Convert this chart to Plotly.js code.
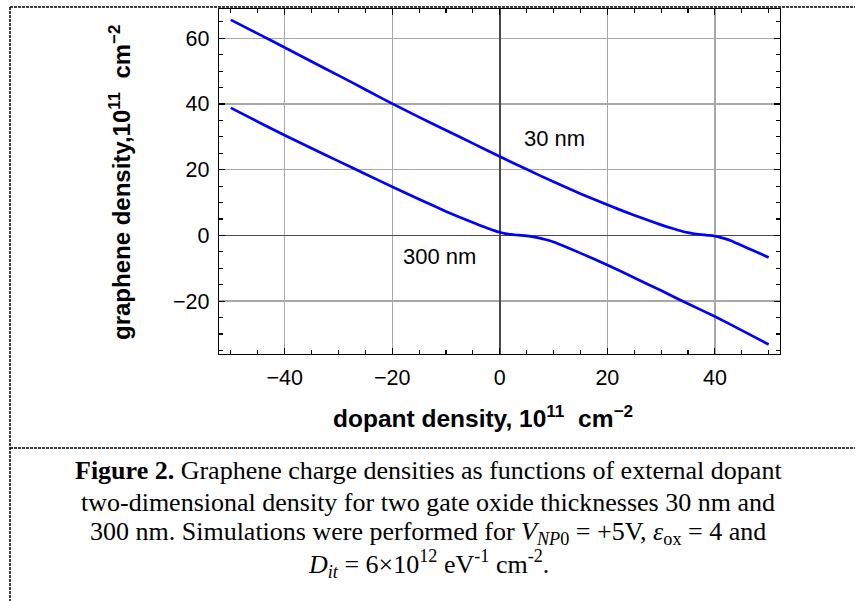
<!DOCTYPE html>
<html>
<head>
<meta charset="utf-8">
<script src="https://cdn.plot.ly/plotly-3.0.1.min.js"></script>
<style>
html,body{margin:0;padding:0;background:#fff;}
#chart{width:855px;height:601px;}
</style>
</head>
<body>
<div id="chart"></div>
<script>
// ---- data ----
const x30 = [-50, -45, -40, -35, -30, -25, -20, -15, -10, -5, 0, 5, 10, 15, 20, 25, 30, 32, 34, 35, 36, 37, 38, 39, 40, 41, 42, 43, 45, 47, 50];
const y30 = [65.6, 61.4, 57.2, 52.9, 48.7, 44.4, 40.1, 36.0, 32.0, 28.0, 24.0, 20.1, 16.3, 12.7, 9.3, 6.1, 3.2, 2.15, 1.2, 0.85, 0.55, 0.32, 0.13, -0.02, -0.25, -0.6, -1.05, -1.6, -3.1, -4.5, -6.7];
const x300 = [-50, -45, -40, -35, -30, -25, -20, -15, -10, -5, -4, -3, -2, -1, 0, 1, 2, 3, 4, 5, 6, 7, 8, 9, 10, 12, 15, 20, 25, 30, 35, 40, 45, 50];
const y300 = [38.8, 34.6, 30.5, 26.5, 22.6, 18.7, 14.8, 11.0, 7.3, 3.9, 3.25, 2.6, 2.0, 1.45, 0.95, 0.55, 0.3, 0.12, 0.0, -0.15, -0.4, -0.7, -1.05, -1.5, -2.0, -3.3, -5.4, -9.0, -12.9, -16.8, -20.8, -24.7, -28.9, -33.2];
const seriesLabels = ["30 nm", "300 nm"];
const xTickVals = [-40, -20, 0, 20, 40];
const yTickVals = [-20, 0, 20, 40, 60];
const xTitle = "dopant density, 10<sup>11</sup>\u00a0 cm<sup>\u22122</sup>";
const yTitle = "graphene density,10<sup>11</sup>\u00a0 cm<sup>\u22122</sup>";
const captionLines = [
  "<b>Figure 2.</b> Graphene charge densities as functions of external dopant",
  "two-dimensional density for two gate oxide thicknesses 30 nm and",
  "300 nm. Simulations were performed for <i>V</i><sub><i>NP</i>0</sub> = +5V, <i>\u03b5</i><sub>ox</sub> = 4 and",
  "<i>D</i><sub><i>it</i></sub> = 6\u00d710<sup>12</sup> eV<sup>-1</sup> cm<sup>-2</sup>."
];

// ---- layout geometry (pixels) ----
const W = 855, H = 601;
const L = 219, R = 780, T = 9, B = 354;
const pw = R - L, ph = B - T;
const px = v => (v - L) / pw;
const py = v => (B - v) / ph;

const lineStyle = {color: '#0000ff', width: 2.7, shape: 'spline', smoothing: 0.5};

const traces = [
  {x: x30, y: y30, mode: 'lines', name: seriesLabels[0], line: lineStyle, hoverinfo: 'x+y'},
  {x: x300, y: y300, mode: 'lines', name: seriesLabels[1], line: lineStyle, hoverinfo: 'x+y'}
];

const sans = 'Liberation Sans, Arial, sans-serif';
const tickFont = {family: sans, size: 21.5, color: '#000'};
const axisCommon = {
  showline: true, linecolor: '#000', linewidth: 1.3, mirror: 'allticks',
  ticks: 'inside', ticklen: 6, tickwidth: 1.1, tickcolor: '#000',
  showgrid: true, gridcolor: '#a8a8a8', gridwidth: 1.3,
  zeroline: true, zerolinecolor: '#4a4a4a', zerolinewidth: 1.5,
  tickfont: tickFont,
  minor: {dtick: 5, ticks: 'inside', ticklen: 4, tickwidth: 1.1, tickcolor: '#000', showgrid: false}
};

const capFont = {family: 'Liberation Serif, Times New Roman, serif', size: 26, color: '#000'};
const capY = [470, 502, 533, 564];
const annotations = [
  {xref: 'x', yref: 'y', x: 10.2, y: 29.4, text: seriesLabels[0], showarrow: false,
   font: {family: sans, size: 22, color: '#000'}},
  {xref: 'x', yref: 'y', x: -11.2, y: -6.4, text: seriesLabels[1], showarrow: false,
   font: {family: sans, size: 22, color: '#000'}},
  {xref: 'paper', yref: 'paper', x: px(483), y: py(416), text: '<b>' + xTitle + '</b>', showarrow: false,
   xanchor: 'center', yanchor: 'middle',
   font: {family: sans, size: 24.5, color: '#000'}},
  {xref: 'paper', yref: 'paper', x: px(120), y: py(183), text: '<b>' + yTitle + '</b>', showarrow: false,
   textangle: -90, xanchor: 'center', yanchor: 'middle',
   font: {family: sans, size: 24, color: '#000'}}
];
captionLines.forEach((t, i) => {
  annotations.push({xref: 'paper', yref: 'paper', x: px(428), y: py(capY[i]), text: t, showarrow: false,
    xanchor: 'center', yanchor: 'middle', font: capFont});
});

const dash = {color: '#000', width: 1.5, dash: '3px,1px'};
const shapes = [
  {type: 'line', xref: 'paper', yref: 'paper', x0: px(10), x1: px(855), y0: py(7), y1: py(7), line: dash},
  {type: 'line', xref: 'paper', yref: 'paper', x0: px(10), x1: px(10), y0: py(7), y1: py(601), line: dash},
  {type: 'line', xref: 'paper', yref: 'paper', x0: px(10), x1: px(855), y0: py(448), y1: py(448), line: dash}
];

const layout = {
  width: W, height: H,
  margin: {l: L, r: W - R, t: T, b: H - B, pad: 0},
  paper_bgcolor: '#fff', plot_bgcolor: '#fff',
  showlegend: false,
  xaxis: Object.assign({}, axisCommon, {range: [-52.2, 52.1], tickvals: xTickVals, ticklabelstandoff: 4}),
  yaxis: Object.assign({}, axisCommon, {range: [-36.1, 68.9], tickvals: yTickVals, ticklabelstandoff: 4}),
  annotations: annotations,
  shapes: shapes
};

Plotly.newPlot('chart', traces, layout, {displayModeBar: false, staticPlot: true});
</script>
</body>
</html>
